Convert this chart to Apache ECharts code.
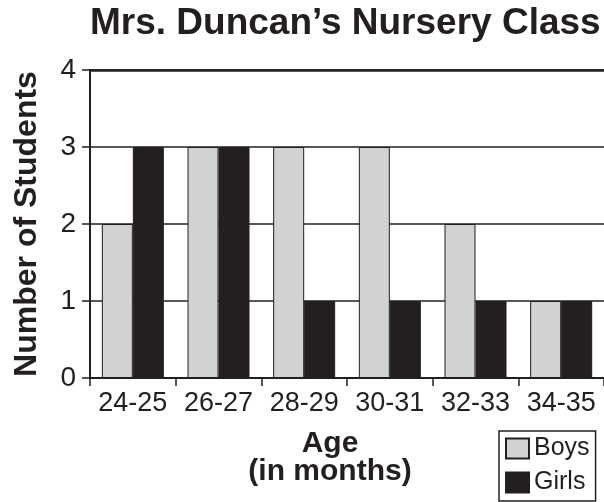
<!DOCTYPE html>
<html>
<head>
<meta charset="utf-8">
<script src="https://cdn.jsdelivr.net/npm/echarts@6/dist/echarts.min.js"></script>
<style>
  html, body { margin: 0; padding: 0; background: #fff; }
  #chart { width: 604px; height: 502px; }
</style>
</head>
<body>
<div id="chart"></div>
<script>
// Ages of children in the class, grouped by two-month ranges
const ageGroups = ['24-25', '26-27', '28-29', '30-31', '32-33', '34-35'];
const boys = [2, 3, 3, 3, 2, 1];
const girls = [3, 3, 1, 1, 1, 1];
const yTicks = { min: 0, max: 4, interval: 1 };

const ink = '#231f20';
const font = '"Liberation Sans", Arial, Helvetica, sans-serif';

const chart = echarts.init(document.getElementById('chart'), null, { renderer: 'canvas' });

chart.setOption({
  backgroundColor: '#ffffff',
  animation: false,
  textStyle: { fontFamily: font, color: ink },
  title: {
    text: 'Mrs. Duncan\u2019s Nursery Class',
    left: 90,
    top: 5,
    padding: 0,
    textStyle: { fontFamily: font, fontSize: 37, fontWeight: 'bold', color: ink }
  },
  legend: {
    orient: 'vertical',
    left: 499,
    bottom: 1,
    height: 70,
    padding: [5, 6, 6, 6],
    itemWidth: 23,
    itemHeight: 20,
    itemGap: 9,
    itemTextGap: 6,
    icon: 'rect',
    borderColor: ink,
    borderWidth: 1.5,
    textStyle: { fontFamily: font, fontSize: 25, color: ink },
    data: ['Boys', 'Girls']
  },
  grid: { left: 90, right: -2, top: 70, bottom: 124, containLabel: false },
  xAxis: [
    {
      type: 'category',
      data: ageGroups,
      position: 'bottom',
      axisLine: { lineStyle: { color: ink, width: 2 } },
      axisTick: { show: true, length: 8, interval: 0, lineStyle: { color: ink, width: 1.5 } },
      axisLabel: { fontFamily: font, fontSize: 27, color: ink, margin: 12, interval: 0 },
      name: 'Age\n(in months)',
      nameLocation: 'middle',
      nameGap: 52,
      nameTextStyle: {
        fontFamily: font, fontSize: 30, fontWeight: 'bold', color: ink,
        lineHeight: 28, padding: [0, 34, 0, 0]
      }
    },
    {
      type: 'category',
      data: ageGroups,
      position: 'top',
      axisLine: { lineStyle: { color: ink, width: 2.5 } },
      axisTick: { show: false },
      axisLabel: { show: false }
    }
  ],
  yAxis: {
    type: 'value',
    min: yTicks.min,
    max: yTicks.max,
    interval: yTicks.interval,
    axisLine: { show: true, lineStyle: { color: ink, width: 2 } },
    axisTick: { show: true, length: 8, lineStyle: { color: ink, width: 1.5 } },
    axisLabel: { fontFamily: font, fontSize: 28, color: ink, margin: 14 },
    splitLine: { show: true, lineStyle: { color: ink, width: 1.5 } },
    name: 'Number of Students',
    nameLocation: 'middle',
    nameGap: 47,
    nameTextStyle: { fontFamily: font, fontSize: 32, fontWeight: 'bold', color: ink }
  },
  series: [
    {
      name: 'Boys',
      type: 'bar',
      xAxisIndex: 0,
      data: boys,
      barWidth: 31,
      barGap: '0%',
      itemStyle: { color: '#d1d2d4', borderColor: ink, borderWidth: 1 }
    },
    {
      name: 'Girls',
      type: 'bar',
      xAxisIndex: 0,
      data: girls,
      barWidth: 31,
      barGap: '0%',
      itemStyle: { color: ink, borderColor: ink, borderWidth: 1 }
    }
  ]
});
</script>
</body>
</html>
